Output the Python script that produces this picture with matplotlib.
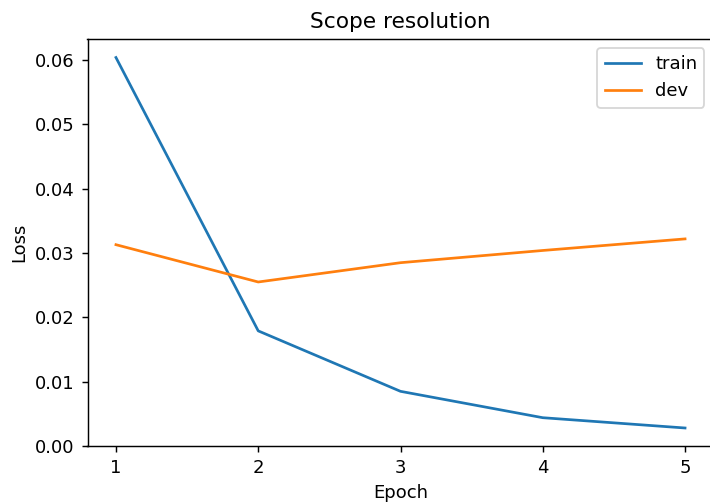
import matplotlib
matplotlib.use("Agg")
import matplotlib.pyplot as plt

epochs = [1, 2, 3, 4, 5]
train_loss = [0.0604, 0.0179, 0.0085, 0.0044, 0.0028]
dev_loss = [0.0313, 0.0255, 0.0285, 0.0304, 0.0322]

DPI = 130
fig = plt.figure(figsize=(710 / DPI, 504 / DPI), dpi=DPI)
ax = fig.add_axes([87.5 / 710, 58 / 504, 626 / 710, 407 / 504])

ax.plot(epochs, train_loss, label="train")
ax.plot(epochs, dev_loss, label="dev")
ax.set_ylim(bottom=0)
ax.set_xticks(epochs)
ax.set_xlabel("Epoch")
ax.set_ylabel("Loss")
ax.set_title("Scope resolution")
ax.legend(loc="upper right")

fig.savefig("out.png", dpi=DPI)
